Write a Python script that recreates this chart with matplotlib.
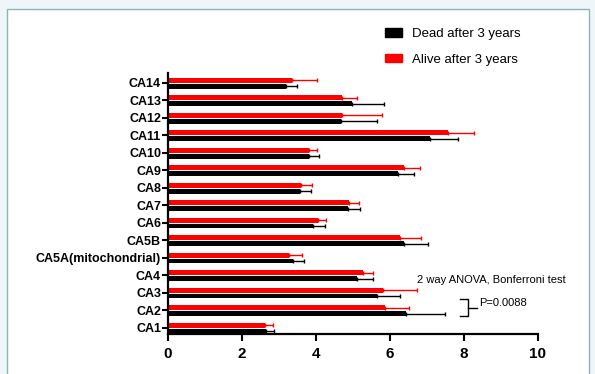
import matplotlib
matplotlib.use("Agg")
import matplotlib.pyplot as plt
from matplotlib.patches import Patch, Rectangle
import numpy as np

plt.rcParams["font.family"] = ["Liberation Sans", "DejaVu Sans"]

# values (mean, upper error)
categories = ["CA1", "CA2", "CA3", "CA4", "CA5A(mitochondrial)", "CA5B", "CA6",
              "CA7", "CA8", "CA9", "CA10", "CA11", "CA12", "CA13", "CA14"]
dead_mean = [2.66, 6.43, 5.64, 5.12, 3.39, 6.37, 3.92, 4.87, 3.58, 6.22, 3.80, 7.08, 4.68, 4.98, 3.19]
dead_err = [0.21, 1.06, 0.64, 0.41, 0.29, 0.65, 0.32, 0.33, 0.29, 0.43, 0.28, 0.76, 0.96, 0.87, 0.29]
alive_mean = [2.62, 5.86, 5.80, 5.26, 3.26, 6.27, 4.05, 4.90, 3.59, 6.38, 3.80, 7.57, 4.69, 4.69, 3.35]
alive_err = [0.21, 0.64, 0.94, 0.29, 0.35, 0.57, 0.22, 0.26, 0.31, 0.43, 0.24, 0.70, 1.10, 0.41, 0.68]
x_ticks = [0, 2, 4, 6, 8, 10]

fig = plt.figure(figsize=(5.95, 3.74), dpi=100, facecolor="#eef6fa")

# white page panel with thin border, like the screenshot
panel = Rectangle((7 / 595, -0.1), 582 / 595, 1.1 - 9 / 374,
                  transform=fig.transFigure, facecolor="white",
                  edgecolor="#8fb3b3", linewidth=1.0, zorder=-1)
fig.add_artist(panel)

ax = fig.add_axes([168 / 595, 40 / 374, 370 / 595, 260.7 / 374])
ax.set_zorder(2)
ax.set_facecolor("none")

y = np.arange(len(categories))
h = 0.28
n = len(categories)

ax.barh(y + 0.15, alive_mean, height=h, color="#ff0000", zorder=2)
ax.errorbar(alive_mean, y + 0.15, xerr=[np.zeros(n), alive_err], fmt="none",
            ecolor="#ff0000", elinewidth=1.0, capsize=1.5, capthick=1.0, zorder=3)
ax.barh(y - 0.19, dead_mean, height=h, color="black", zorder=2)
ax.errorbar(dead_mean, y - 0.19, xerr=[np.zeros(n), dead_err], fmt="none",
            ecolor="black", elinewidth=1.0, capsize=1.5, capthick=1.0, zorder=3)

ax.set_xlim(0, 10)
ax.set_ylim(-0.36, 14.54)
ax.set_xticks(x_ticks)
ax.set_xticklabels([str(t) for t in x_ticks], fontsize=11, fontweight="bold")
ax.set_yticks(y)
ax.set_yticklabels(categories, fontsize=9, fontweight="bold")

for s in ["top", "right"]:
    ax.spines[s].set_visible(False)
for s in ["left", "bottom"]:
    ax.spines[s].set_linewidth(1.6)
ax.tick_params(axis="y", length=4, width=1.5, pad=1)
ax.tick_params(axis="x", length=5, width=1.5, pad=4)

# statistics note
ax.text(6.72, 2.73, "2 way ANOVA, Bonferroni test", fontsize=8, va="center", ha="left")
ax.plot([7.89, 8.12, 8.12, 7.89], [1.62, 1.62, 0.67, 0.67], color="black", lw=1.0,
        clip_on=False)
ax.plot([8.12, 8.34], [1.14, 1.14], color="black", lw=1.0, clip_on=False)
ax.text(8.41, 1.43, "P=0.0088", fontsize=8, va="center", ha="left")

handles = [Patch(facecolor="black", edgecolor="black"),
           Patch(facecolor="#ff0000", edgecolor="#ff0000")]
fig.legend(handles, ["Dead after 3 years", "Alive after 3 years"],
           loc="upper left", bbox_to_anchor=(385 / 595, 0.925), frameon=False,
           fontsize=9.5, borderpad=0, borderaxespad=0, handlelength=1.26,
           handleheight=0.6, handletextpad=0.76, labelspacing=1.05)

fig.savefig("out.png", dpi=100, facecolor=fig.get_facecolor())
